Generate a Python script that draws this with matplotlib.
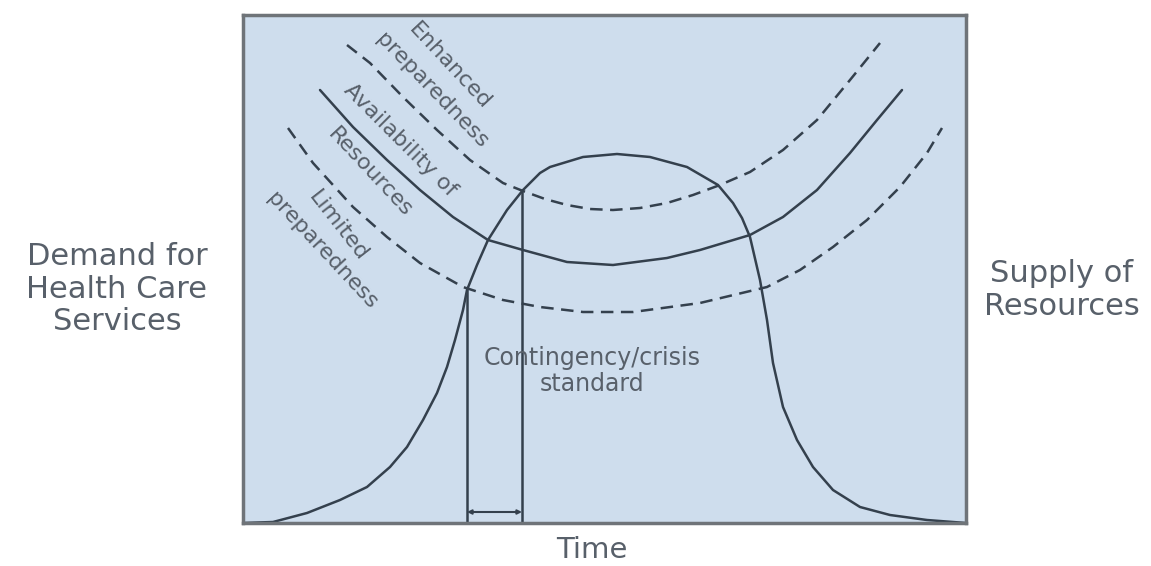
import numpy as np
import matplotlib
matplotlib.use("Agg")
import matplotlib.pyplot as plt

# values (time on x, level on y)
demand_t = [0, 30, 64, 97, 124, 147, 164, 180, 194, 204, 212, 220, 224, 234, 245,
            264, 280, 297, 307, 340, 374, 407, 444, 475, 490, 499, 507, 517, 524,
            530, 540, 554, 570, 590, 617, 647, 684, 723]
demand_v = [0, 1, 10, 23, 36, 56, 76, 103, 130, 156, 183, 213, 233, 258, 283,
            313, 333, 350, 356, 366, 369, 366, 356, 338, 320, 305, 286, 243, 203,
            160, 116, 83, 56, 33, 16, 8, 3, 0]

enhanced_t = [104, 127, 160, 194, 227, 260, 280, 302, 324, 347, 370, 397, 424,
              450, 477, 507, 540, 574, 607, 637]
enhanced_v = [478, 460, 426, 393, 363, 340, 332, 324, 318, 314, 313, 315, 320,
              328, 338, 351, 373, 403, 443, 480]

available_t = [77, 110, 144, 177, 210, 245, 280, 324, 370, 424, 457, 507, 540,
               574, 607, 634, 659]
available_v = [433, 396, 363, 333, 306, 283, 273, 261, 258, 265, 273, 288, 306,
               333, 370, 403, 433]

limited_t = [45, 70, 110, 144, 177, 220, 260, 297, 340, 390, 457, 524, 557, 590,
             624, 657, 684, 699]
limited_v = [395, 360, 316, 286, 260, 236, 223, 216, 211, 211, 220, 236, 253, 276,
             303, 336, 370, 395]

crisis_start = 224
crisis_end = 279

line_col = "#34404d"
text_col = "#58606a"
bg_col = "#cedded"

plt.rcParams['font.family'] = ['DejaVu Sans']

fig = plt.figure(figsize=(11.51, 5.66), dpi=100)
ax = fig.add_axes([243 / 1151, 43 / 566, 723 / 1151, 508 / 566])
ax.set_facecolor(bg_col)
ax.set_xlim(0, 723)
ax.set_ylim(0, 508)
ax.set_xticks([])
ax.set_yticks([])
for s in ax.spines.values():
    s.set_color("#6f7479")
    s.set_linewidth(2.5)

style = dict(color=line_col, lw=1.8, solid_joinstyle="round",
             solid_capstyle="round", dash_joinstyle="round")
ax.plot(demand_t, demand_v, **style)
ax.plot(available_t, available_v, **style)
ax.plot(enhanced_t, enhanced_v, dashes=(5, 3), **style)
ax.plot(limited_t, limited_v, dashes=(5, 3), **style)

# contingency / crisis window
h1 = np.interp(crisis_start, demand_t, demand_v)
h2 = np.interp(crisis_end, demand_t, demand_v)
ax.plot([crisis_start, crisis_start], [0, h1], color=line_col, lw=1.8)
ax.plot([crisis_end, crisis_end], [0, h2], color=line_col, lw=1.8)
ax.annotate("", xy=(crisis_start, 11), xytext=(crisis_end, 11),
            arrowprops=dict(arrowstyle="<|-|>", color=line_col, lw=1.5,
                            mutation_scale=6, shrinkA=0, shrinkB=0))

ax.text(349, 152, "Contingency/crisis\nstandard", ha="center", va="center",
        fontsize=17, color=text_col, linespacing=1.1)

# curve labels
def curve_label(x, y, s, rot):
    ax.text(x, y, s, ha="center", va="center", rotation=rot,
            rotation_mode="anchor", fontsize=16, color=text_col)

curve_label(450 - 243, 523 - 66, "Enhanced", -47)
curve_label(432 - 243, 523 - 91, "preparedness", -46)
curve_label(400 - 243, 523 - 140, "Availability of", -45)
curve_label(370 - 243, 523 - 172, "Resources", -47)
curve_label(338 - 243, 523 - 226, "Limited", -52)
curve_label(322 - 243, 523 - 251, "preparedness", -47)

fig.text(117 / 1151, 1 - 289 / 566, "Demand for\nHealth Care\nServices",
         ha="center", va="center", fontsize=22, color=text_col, linespacing=1.15)
fig.text(1062 / 1151, 1 - 290 / 566, "Supply of\nResources",
         ha="center", va="center", fontsize=22, color=text_col, linespacing=1.15)
fig.text(592 / 1151, 1 - 550 / 566, "Time", ha="center", va="center",
         fontsize=21, color=text_col)

fig.savefig("out.png", dpi=100, facecolor="white")
